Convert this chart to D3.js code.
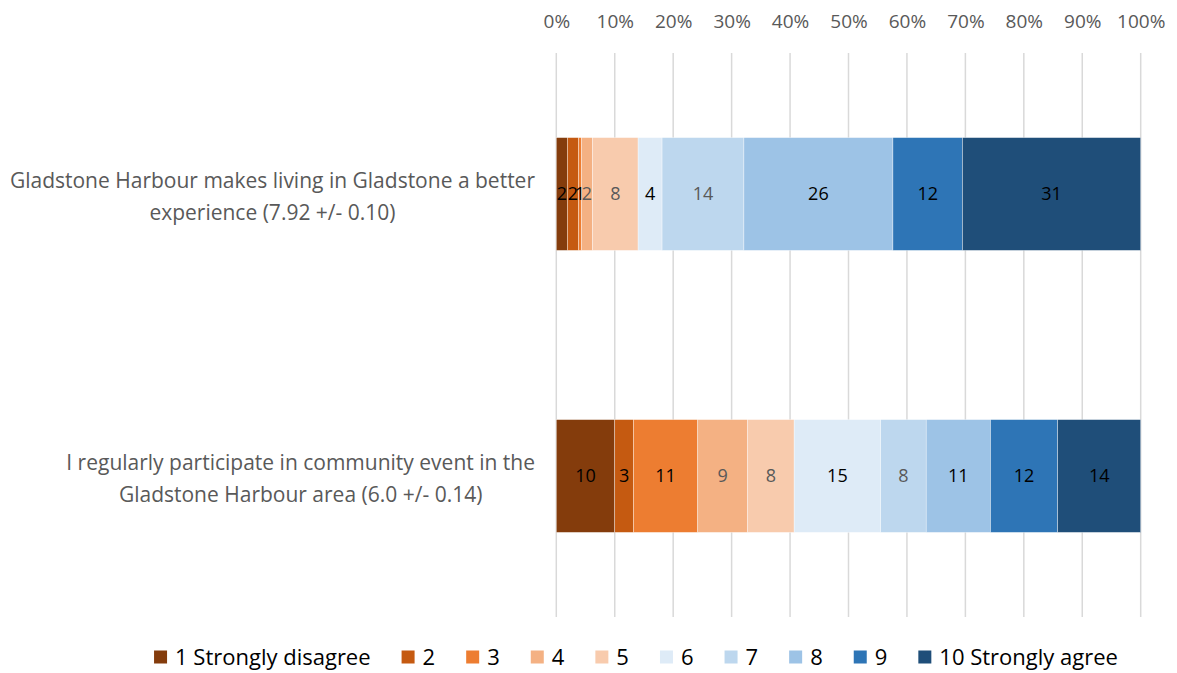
<!DOCTYPE html>
<html>
<head>
<meta charset="utf-8">
<script src="https://cdn.jsdelivr.net/npm/d3@7"></script>
<style>
  html, body { margin: 0; padding: 0; background: #ffffff; }
  svg { display: block; }
</style>
</head>
<body>
<svg id="chart" width="1177" height="673"></svg>
<script>
// ---- data ----
const categories = [
  ["Gladstone Harbour makes living in Gladstone a better", "experience (7.92 +/- 0.10)"],
  ["I regularly participate in community event in the", "Gladstone Harbour area (6.0 +/- 0.14)"]
];
const seriesNames = ["1 Strongly disagree", "2", "3", "4", "5", "6", "7", "8", "9", "10 Strongly agree"];
// percentage share of responses per rating (row = category)
const valuesHarbourBetter = [1.9, 1.9, 0.5, 1.9, 7.8, 4.1, 14.0, 25.5, 11.9, 30.5];
const valuesCommunityEvent = [10.0, 3.2, 11.0, 8.5, 8.0, 14.8, 7.8, 11.0, 11.5, 14.2];
const seriesValues = [valuesHarbourBetter, valuesCommunityEvent];
const tickValues = [0, 10, 20, 30, 40, 50, 60, 70, 80, 90, 100];
const colors = ["#843c0c", "#c55a11", "#ed7d31", "#f4b183", "#f8cbad", "#deebf7", "#bdd7ee", "#9dc3e6", "#2e75b6", "#1f4e79"];
const labelColors = ["#000", "#000", "#000", "#595959", "#595959", "#000", "#595959", "#000", "#000", "#000"];

const FONT = "'Open Sans', 'Noto Sans', sans-serif";
const svg = d3.select("#chart");

const x = d3.scaleLinear().domain([0, 100]).range([556.3, 1140.7]);
const y = d3.scaleBand().domain(d3.range(categories.length)).range([53, 617])
  .paddingInner(0.6).paddingOuter(0.3);

// gridlines
svg.append("g").selectAll("line").data(tickValues).join("line")
  .attr("x1", d => x(d)).attr("x2", d => x(d))
  .attr("y1", 53).attr("y2", 617)
  .attr("stroke", "#d9d9d9").attr("stroke-width", 1.5);

// top axis labels
const axis = d3.axisTop(x).tickValues(tickValues).tickSize(0).tickPadding(0)
  .tickFormat(d => d + "%");
const gAxis = svg.append("g").attr("transform", "translate(0,28)").call(axis);
gAxis.select(".domain").remove();
gAxis.selectAll("text").attr("font-family", FONT).attr("font-size", 19).attr("fill", "#595959");

// stacked bars
const rows = seriesValues.map((vals, i) => {
  let acc = 0;
  return vals.map((v, j) => { const s = acc; acc += v; return { row: i, s: j, x0: s, x1: acc, v }; });
});
const gBars = svg.append("g");
rows.forEach(r => {
  gBars.append("g").selectAll("rect").data(r).join("rect")
    .attr("x", d => x(d.x0)).attr("width", d => x(d.x1) - x(d.x0))
    .attr("y", d => y(d.row)).attr("height", y.bandwidth())
    .attr("fill", d => colors[d.s])
    .attr("stroke", "#ffffff").attr("stroke-width", 0.6).attr("stroke-opacity", 0.6);
  gBars.append("g").selectAll("text").data(r).join("text")
    .attr("x", d => (x(d.x0) + x(d.x1)) / 2)
    .attr("y", d => y(d.row) + y.bandwidth() / 2)
    .attr("dy", "0.35em").attr("text-anchor", "middle")
    .attr("font-family", FONT).attr("font-size", 18)
    .attr("fill", d => labelColors[d.s])
    .text(d => Math.round(d.v));
});

// category labels (block right-aligned, lines centered)
categories.forEach((lines, i) => {
  const g = svg.append("g");
  const texts = g.selectAll("text").data(lines).join("text")
    .attr("font-family", FONT).attr("font-size", 21).attr("fill", "#595959")
    .attr("text-anchor", "middle")
    .text(d => d);
  const maxW = d3.max(texts.nodes(), n => n.getComputedTextLength());
  const cx = 535 - maxW / 2;
  const cy = y(i) + y.bandwidth() / 2 + 3;
  const lh = 32;
  texts.attr("x", cx).attr("y", (d, k) => cy + (k - (lines.length - 1) / 2) * lh).attr("dy", "0.35em");
});

// legend
const gLeg = svg.append("g");
let lx = 0;
const sw = 13, gap = 31;
seriesNames.forEach((name, j) => {
  const it = gLeg.append("g").attr("transform", `translate(${lx},0)`);
  it.append("rect").attr("x", 0).attr("y", -sw / 2).attr("width", sw).attr("height", sw).attr("fill", colors[j]);
  const t = it.append("text").attr("x", sw + 8).attr("y", 0).attr("dy", "0.35em")
    .attr("font-family", FONT).attr("font-size", 22).attr("fill", "#000").text(name);
  lx += sw + 8 + t.node().getComputedTextLength() + gap;
});
const legW = lx - gap;
gLeg.attr("transform", `translate(${636 - legW / 2},657)`);
</script>
</body>
</html>
